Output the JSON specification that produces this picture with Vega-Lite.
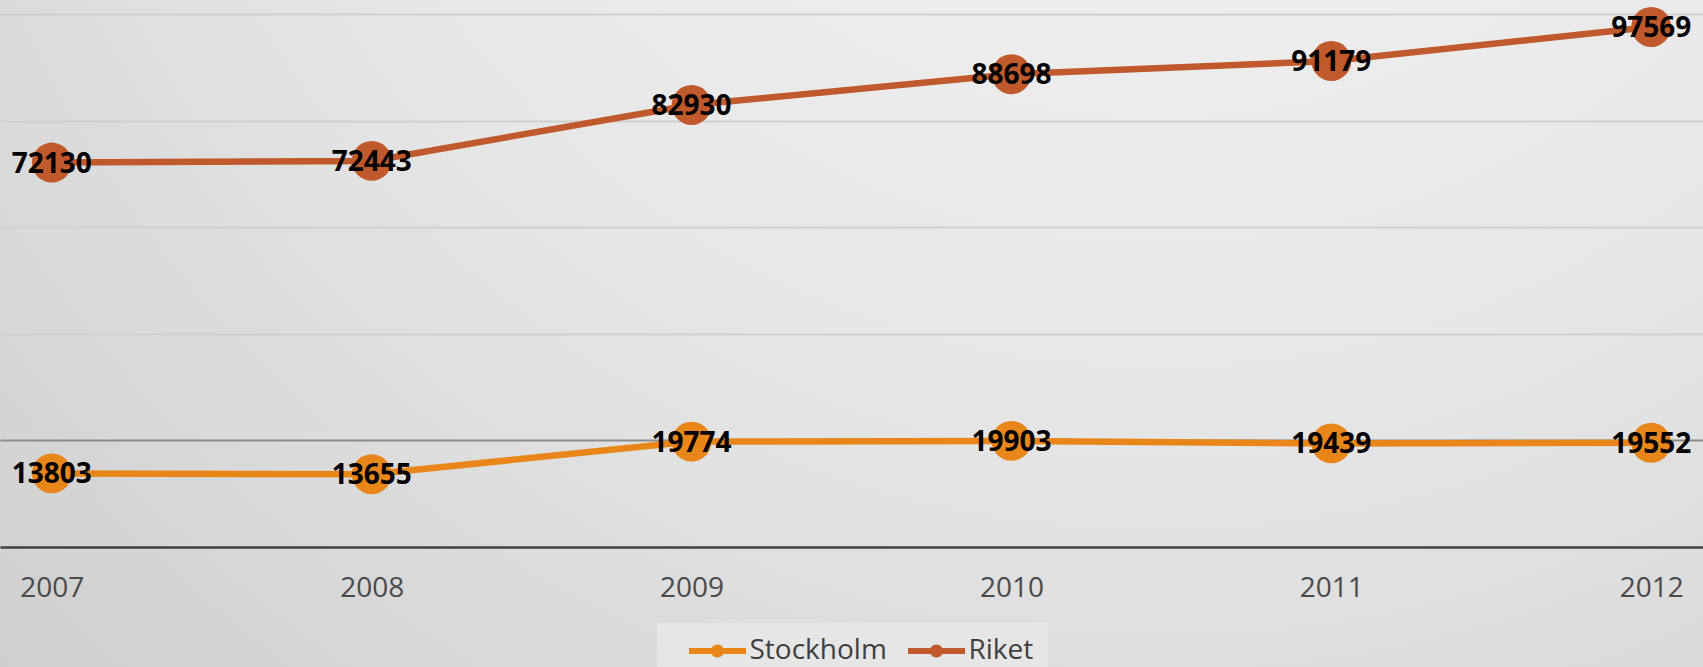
{
  "$schema": "https://vega.github.io/schema/vega-lite/v6.json",
  "width": 1703,
  "height": 667,
  "padding": 0,
  "autosize": {"type": "none"},
  "background": "#d8d8d8",
  "config": {
    "view": {
      "stroke": null,
      "fill": {
        "gradient": "radial",
        "x1": 0.68, "y1": 0.0, "r1": 0,
        "x2": 0.68, "y2": 0.0, "r2": 1.1,
        "stops": [
          {"offset": 0, "color": "#f7f7f7"},
          {"offset": 0.5, "color": "#e6e6e6"},
          {"offset": 1, "color": "#c8c8c8"}
        ]
      }
    },
    "font": "Open Sans"
  },
  "data": {
    "values": [
      {"year": "2007", "series": "Stockholm", "value": 13803},
      {"year": "2008", "series": "Stockholm", "value": 13655},
      {"year": "2009", "series": "Stockholm", "value": 19774},
      {"year": "2010", "series": "Stockholm", "value": 19903},
      {"year": "2011", "series": "Stockholm", "value": 19439},
      {"year": "2012", "series": "Stockholm", "value": 19552},
      {"year": "2007", "series": "Riket", "value": 72130},
      {"year": "2008", "series": "Riket", "value": 72443},
      {"year": "2009", "series": "Riket", "value": 82930},
      {"year": "2010", "series": "Riket", "value": 88698},
      {"year": "2011", "series": "Riket", "value": 91179},
      {"year": "2012", "series": "Riket", "value": 97569}
    ]
  },
  "encoding": {
    "x": {
      "field": "year",
      "type": "ordinal",
      "scale": {"type": "point", "padding": 0.162},
      "axis": {
        "title": null,
        "orient": "bottom",
        "offset": -120,
        "domain": false,
        "ticks": false,
        "grid": false,
        "labelAngle": 0,
        "labelFont": "Open Sans",
        "labelFontSize": 28,
        "labelColor": "#4a4a4a",
        "labelBaseline": "middle",
        "labelPadding": 41
      }
    },
    "y": {
      "field": "value",
      "type": "quantitative",
      "scale": {"domain": [0, 100000], "range": [547, 14], "nice": false, "zero": true},
      "axis": {
        "title": null,
        "labels": false,
        "ticks": false,
        "domain": false,
        "values": [0, 20000, 40000, 60000, 80000, 100000],
        "grid": true,
        "gridColor": {
          "condition": [
            {"test": "datum.value === 0", "value": "#404040"},
            {"test": "datum.value === 20000", "value": "#8c8c8c"}
          ],
          "value": "#cfcfcf"
        },
        "gridWidth": {
          "condition": {"test": "datum.value === 0", "value": 2.5},
          "value": 2
        }
      }
    },
    "color": {
      "field": "series",
      "type": "nominal",
      "scale": {"domain": ["Stockholm", "Riket"], "range": ["#E8861A", "#C0592C"]},
      "legend": {
        "title": null,
        "orient": "none",
        "legendX": 657,
        "legendY": 623,
        "direction": "horizontal",
        "fillColor": "#e6e6e6",
        "padding": 14,
        "symbolType": "M-2.85,-0.3H2.85V0.3H-2.85Z M0.65,0A0.65,0.65 0 1 1 -0.65,0A0.65,0.65 0 1 1 0.65,0Z",
        "symbolSize": 400,
        "symbolStrokeWidth": 0,
        "symbolOffset": 32.5,
        "labelOffset": 18,
        "columnPadding": 3,
        "labelFont": "Open Sans",
        "labelFontSize": 28,
        "labelColor": "#404040",
        "encode": {
          "symbols": {
            "update": {
              "fill": {"scale": "color", "field": "value"},
              "stroke": {"value": "transparent"},
              "opacity": {"value": 1}
            }
          }
        }
      }
    }
  },
  "layer": [
    {"mark": {"type": "line", "strokeWidth": 6.5}},
    {"mark": {"type": "point", "filled": true, "size": 1590, "opacity": 1, "shape": "circle"}},
    {
      "mark": {"type": "text", "font": "Open Sans", "fontWeight": "bold", "fontSize": 28, "align": "center", "baseline": "middle", "dy": 2},
      "encoding": {
        "text": {"field": "value", "type": "quantitative", "format": "d"},
        "color": {"value": "#000000"}
      }
    }
  ]
}
